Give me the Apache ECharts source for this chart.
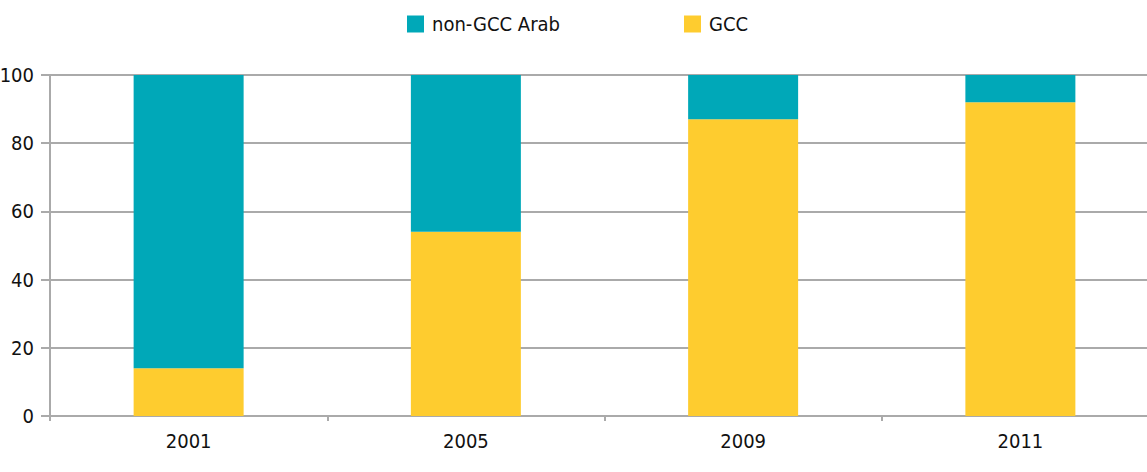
<!DOCTYPE html>
<html><head><meta charset="utf-8">
<script src="https://cdn.jsdelivr.net/npm/echarts@6/dist/echarts.min.js"></script>
<style>html,body{margin:0;padding:0;background:#fff}#c{width:1147px;height:472px}</style>
</head><body><div id="c"></div>
<script>
const categories = ['2001', '2005', '2009', '2011'];
const gccValues = [14, 54, 87, 92];
const nonGccValues = [86, 46, 13, 8];
const yTicks = [0, 20, 40, 60, 80, 100];

const FONT = '"Liberation Sans Narrow", "DejaVu Sans Condensed", sans-serif';
const TXT = { fontFamily: FONT, fontStyle: 'condensed', fontSize: 20, color: '#111' };
const chart = echarts.init(document.getElementById('c'), null, { renderer: 'svg' });
chart.setOption({
  animation: false,
  textStyle: { fontFamily: FONT },
  legend: [
    { data: ['non-GCC Arab'], left: 407, top: 14, padding: 0, itemWidth: 17, itemHeight: 17, itemGap: 8, icon: 'rect',
      textStyle: Object.assign({ padding: [0, 0, 0, 3] }, TXT) },
    { data: ['GCC'], left: 684, top: 14, padding: 0, itemWidth: 17, itemHeight: 17, itemGap: 8, icon: 'rect',
      textStyle: Object.assign({ padding: [0, 0, 0, 3] }, TXT) }
  ],
  grid: { left: 50, right: -12, top: 75, bottom: 56, containLabel: false, outerBoundsMode: 'none' },
  xAxis: {
    type: 'category', data: categories,
    axisLine: { lineStyle: { color: '#aaa', width: 2 } },
    axisTick: { show: true, length: 5, lineStyle: { color: '#aaa', width: 2 } },
    axisLabel: Object.assign({ margin: 15 }, TXT)
  },
  yAxis: {
    type: 'value', min: 0, max: 100, interval: 20,
    axisLine: { show: true, lineStyle: { color: '#aaa', width: 2 } },
    axisTick: { show: true, length: 9, lineStyle: { color: '#aaa', width: 2 } },
    splitLine: { lineStyle: { color: '#aaa', width: 2 } },
    axisLabel: Object.assign({ margin: 16, formatter: v => yTicks.includes(v) ? String(v) : '' }, TXT)
  },
  series: [
    { name: 'GCC', type: 'bar', stack: 'a', data: gccValues, barWidth: 110,
      itemStyle: { color: '#FECC2F' } },
    { name: 'non-GCC Arab', type: 'bar', stack: 'a', data: nonGccValues, barWidth: 110,
      itemStyle: { color: '#00A8B8' } }
  ]
});
</script></body></html>
